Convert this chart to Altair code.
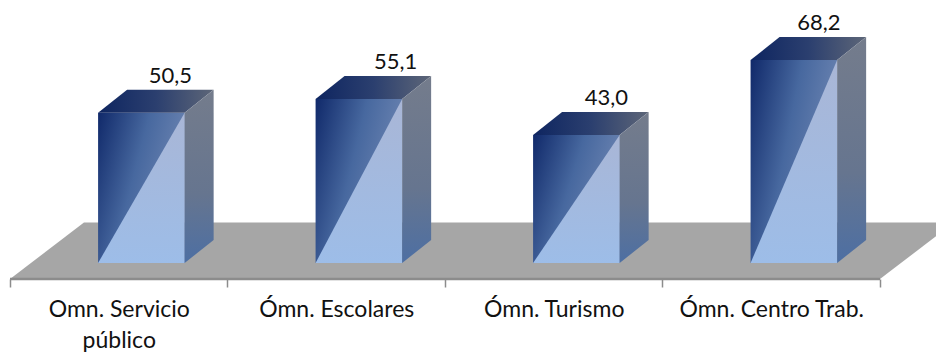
import altair as alt
import pandas as pd

categories = ["Omn. Servicio|público", "Ómn. Escolares", "Ómn. Turismo", "Ómn. Centro Trab."]
values = [50.5, 55.1, 43.0, 68.2]
value_labels = ["50,5", "55,1", "43,0", "68,2"]
tick_values = [0, 0.5, 1, 1.5, 2, 2.5, 3, 3.5, 4]

# 3D look, in scale units
BAR_OFFSET, BAR_W = 0.405, 0.398
DX, DY = 0.1333, 7.73
FLOOR_FRONT, FLOOR_BACK, FLOOR_DX = -5.38, 13.6, 0.34
LABEL_SHIFT = [0.133, 0.169, 0.138, 0.115]
X_DOM = [-0.0092, 4.2575]
Y_DOM = [-5.38, 85.7]
FONT = "Lato"

xs = alt.Scale(domain=X_DOM, nice=False, zero=False)
ys = alt.Scale(domain=Y_DOM, nice=False, zero=False)

label_expr = " : ".join(
    f"datum.value == {i + 0.5} ? {c.split('|')!r}" for i, c in enumerate(categories)
) + " : ''"

X_PLAIN = alt.X("x:Q", scale=xs, title=None)
Y_PLAIN = alt.Y("y:Q", scale=ys, axis=None)


def poly(rows, gradient, clip=False):
    return (
        alt.Chart(pd.DataFrame(rows))
        .mark_area(color=gradient, clip=clip, interpolate="linear", opacity=1)
        .encode(x=X_PLAIN, y=Y_PLAIN, y2="y2:Q", detail="g:N")
    )


def grad(stops, x1=0, y1=0, x2=1, y2=0):
    return alt.Gradient(
        gradient="linear", x1=x1, y1=y1, x2=x2, y2=y2,
        stops=[alt.GradientStop(offset=o, color=c) for o, c in stops],
    )


# floor with the axis
floor = pd.DataFrame([
    dict(x=0, y=FLOOR_FRONT, y2=FLOOR_FRONT),
    dict(x=FLOOR_DX, y=FLOOR_BACK, y2=FLOOR_FRONT),
    dict(x=4, y=FLOOR_BACK, y2=FLOOR_FRONT),
    dict(x=4 + FLOOR_DX, y=FLOOR_BACK, y2=FLOOR_BACK),
])
floor_layer = alt.Chart(floor).mark_area(color="#a6a6a6", clip=True).encode(
    x=alt.X(
        "x:Q", scale=xs, title=None,
        axis=alt.Axis(
            values=tick_values, domain=False, grid=False, tickSize=8, tickWidth=1.5,
            tickColor="#8c8c8c",
            tickOpacity={"condition": {"test": "datum.value % 1 == 0", "value": 1}, "value": 0},
            labelExpr=label_expr, labelFont=FONT, labelFontSize=23, labelColor="#111111",
            labelPadding=11, labelOverlap=False, labelFlush=False, labelLineHeight=31,
            labelBaseline="top", labelAngle=0, labelLimit=400,
        ),
    ),
    y=Y_PLAIN, y2="y2:Q",
)

edge = alt.Chart(pd.DataFrame({"x": [0], "x2": [4], "y": [FLOOR_FRONT]})).mark_rule(
    color="#8c8c8c", strokeWidth=2.5
).encode(x=X_PLAIN, x2="x2:Q", y=Y_PLAIN)

front, tri, top, side, text = [], [], [], [], []
for i, v in enumerate(values):
    L = i + BAR_OFFSET
    R = L + BAR_W
    front.append(dict(x=L, x2=R, y=0, y2=v))
    tri += [dict(g=i, x=L, y=0, y2=0), dict(g=i, x=R, y=v, y2=0)]
    top += [
        dict(g=i, x=L, y=v, y2=v),
        dict(g=i, x=L + DX, y=v + DY, y2=v),
        dict(g=i, x=R, y=v + DY, y2=v),
        dict(g=i, x=R + DX, y=v + DY, y2=v + DY),
    ]
    side += [dict(g=i, x=R, y=v, y2=0), dict(g=i, x=R + DX, y=v + DY, y2=DY)]
    text.append(dict(x=L + BAR_W / 2 + LABEL_SHIFT[i], y=v + DY + 4.7, t=value_labels[i]))

front_layer = alt.Chart(pd.DataFrame(front)).mark_bar(
    color=grad([(0, "#10296a"), (0.5, "#47689f"), (1, "#7188b4")], 0, 0, 1, 0.45)
).encode(x=X_PLAIN, x2="x2:Q", y=Y_PLAIN, y2="y2:Q")

tri_layer = poly(tri, grad([(0, "#a9b6d6"), (1, "#9dbde8")], 0, 0, 0, 1))
top_layer = poly(top, grad([(0, "#0e2560"), (0.5, "#2b3f6f"), (1, "#5d6678")]))
side_layer = poly(side, grad([(0, "#747c8c"), (0.6, "#66758f"), (1, "#4d6fa3")], 0, 0, 0, 1))

text_layer = alt.Chart(pd.DataFrame(text)).mark_text(
    font=FONT, fontSize=22, color="#111111", baseline="middle", align="center"
).encode(x=X_PLAIN, y=Y_PLAIN, text="t:N")

chart = (
    alt.layer(floor_layer, edge, front_layer, tri_layer, top_layer, side_layer, text_layer)
    .properties(width=928, height=271, padding=0, background="white")
    .configure_view(stroke=None)
)

chart.save("out.html", embed_options={"renderer": "svg", "actions": False})
